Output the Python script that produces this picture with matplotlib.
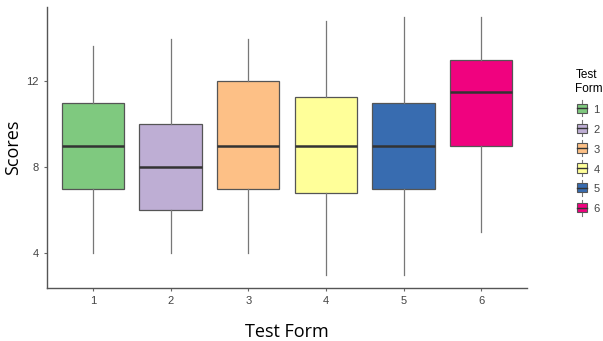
import matplotlib
matplotlib.use("Agg")
import matplotlib.pyplot as plt
from matplotlib.legend_handler import HandlerBase
from matplotlib.patches import Rectangle
from matplotlib.lines import Line2D

# data
forms = ["1", "2", "3", "4", "5", "6"]
whisk_low = [4.0, 4.0, 4.0, 3.0, 3.0, 5.0]
q1 = [7.0, 6.0, 7.0, 6.8, 7.0, 9.0]
medians = [9.0, 8.0, 9.0, 9.0, 9.0, 11.5]
q3 = [11.0, 10.0, 12.0, 11.25, 11.0, 13.0]
whisk_high = [13.65, 13.95, 13.95, 14.8, 15.0, 15.0]
colors = ["#7FC97F", "#BEAED4", "#FDC086", "#FFFF99", "#386CB0", "#F0027F"]

plt.rcParams["font.family"] = ["Liberation Sans", "DejaVu Sans"]

fig = plt.figure(figsize=(6.03, 3.41), dpi=100)
ax = fig.add_axes([0.078, 0.155, 0.796, 0.824])

stats = []
for i, f in enumerate(forms):
    stats.append(dict(label=f, whislo=whisk_low[i], q1=q1[i], med=medians[i],
                      q3=q3[i], whishi=whisk_high[i], fliers=[]))

bp = ax.bxp(stats, positions=range(1, 7), widths=0.8, patch_artist=True,
            showcaps=False,
            boxprops=dict(edgecolor="#555555", linewidth=0.9),
            medianprops=dict(color="#333333", linewidth=1.8),
            whiskerprops=dict(color="#777777", linewidth=0.9))
for patch, c in zip(bp["boxes"], colors):
    patch.set_facecolor(c)

ax.set_xlim(0.41, 6.59)
ax.set_ylim(2.37, 15.45)
ax.set_yticks([4, 8, 12])
ax.set_xticks(range(1, 7))
ax.set_xticklabels(forms)
ax.tick_params(labelsize=8, labelcolor="#444444", color="#666666", length=2.5)
for s in ["top", "right"]:
    ax.spines[s].set_visible(False)
for s in ["left", "bottom"]:
    ax.spines[s].set_color("#555555")
    ax.spines[s].set_linewidth(1.0)

ax.set_xlabel("Test Form", fontsize=13, family=["Open Sans", "DejaVu Sans"],
              labelpad=12)
ax.set_ylabel("Scores", fontsize=13, family=["Open Sans", "DejaVu Sans"],
              labelpad=3)


class BoxHandler(HandlerBase):
    def create_artists(self, legend, orig_handle, xdescent, ydescent,
                       width, height, fontsize, trans):
        cx = width / 2 - xdescent
        w = width * 0.8
        top = height * 1.35
        bot = -height * 0.35
        line = Line2D([cx, cx], [bot, top], color="#777777", lw=0.8,
                      transform=trans)
        rect = Rectangle((cx - w / 2, 0), w, height, facecolor=orig_handle,
                         edgecolor="#555555", lw=0.8, transform=trans)
        med = Line2D([cx - w / 2, cx + w / 2], [height / 2, height / 2],
                     color="#333333", lw=1.0, transform=trans)
        return [line, rect, med]


leg = fig.legend(colors, forms, handler_map={str: BoxHandler()},
                 loc="upper left", bbox_to_anchor=(0.947, 0.81),
                 frameon=False, title="Test\nForm", fontsize=8,
                 title_fontsize=8.5, handlelength=1.2, handleheight=0.9,
                 labelspacing=0.85, handletextpad=0.4, borderaxespad=0)
leg._legend_box.align = "left"
for t in leg.get_texts():
    t.set_color("#444444")

fig.savefig("out.png", dpi=100)
